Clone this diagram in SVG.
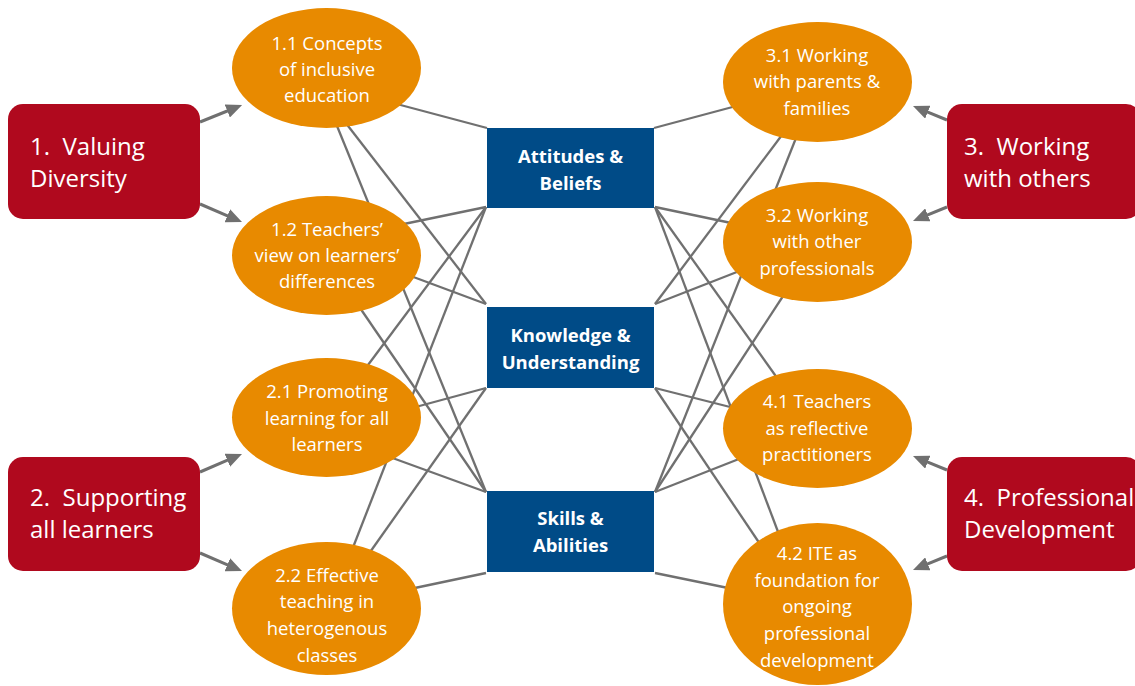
<svg xmlns="http://www.w3.org/2000/svg" width="1135" height="686" viewBox="0 0 1135 686">
<defs>
<marker id="ah" markerUnits="userSpaceOnUse" markerWidth="16" markerHeight="14" refX="4" refY="7" orient="auto">
<path d="M0,0 L16,7 L0,14 z" fill="#707070"/>
</marker>
<style>
.ln{stroke:#707070;stroke-width:2.3;fill:none}
.ar{stroke:#707070;stroke-width:3;fill:none;marker-end:url(#ah)}
.red{fill:#B0091E}
.org{fill:#E88A00}
.blu{fill:#004B87}
.rt{font-family:"Open Sans","Noto Sans",sans-serif;font-size:24px;fill:#fff;white-space:pre}
.et{font-family:"Open Sans","Noto Sans",sans-serif;font-size:18.5px;fill:#fff;text-anchor:middle}
.bt{font-family:"Open Sans","Noto Sans",sans-serif;font-size:18.5px;font-weight:bold;fill:#fff;text-anchor:middle}
</style>
</defs>
<rect width="1135" height="686" fill="#fff"/>
<g id="connectors">
<line class="ln" x1="393" y1="103" x2="487" y2="128"/>
<line class="ln" x1="345" y1="122" x2="486" y2="304"/>
<line class="ln" x1="335" y1="121" x2="486" y2="492"/>
<line class="ln" x1="399" y1="225" x2="486" y2="207"/>
<line class="ln" x1="408" y1="275" x2="486" y2="304"/>
<line class="ln" x1="358" y1="305" x2="486" y2="492"/>
<line class="ln" x1="365" y1="369" x2="486" y2="207"/>
<line class="ln" x1="412" y1="408" x2="486" y2="388"/>
<line class="ln" x1="387" y1="456" x2="486" y2="492"/>
<line class="ln" x1="352" y1="550" x2="486" y2="207"/>
<line class="ln" x1="368" y1="555" x2="486" y2="388"/>
<line class="ln" x1="410" y1="589" x2="486" y2="573"/>
<line class="ln" x1="740" y1="105" x2="654" y2="128"/>
<line class="ln" x1="785" y1="131" x2="655" y2="304"/>
<line class="ln" x1="798" y1="133" x2="655" y2="492"/>
<line class="ln" x1="736" y1="224" x2="655" y2="207"/>
<line class="ln" x1="742" y1="270" x2="655" y2="304"/>
<line class="ln" x1="787" y1="290" x2="655" y2="492"/>
<line class="ln" x1="780" y1="382" x2="655" y2="207"/>
<line class="ln" x1="738" y1="409" x2="655" y2="388"/>
<line class="ln" x1="744" y1="457" x2="655" y2="492"/>
<line class="ln" x1="780" y1="537" x2="655" y2="207"/>
<line class="ln" x1="762" y1="547" x2="655" y2="388"/>
<line class="ln" x1="733" y1="589" x2="655" y2="573"/>
<line class="ar" x1="200" y1="122" x2="231" y2="109.5"/>
<line class="ar" x1="200" y1="204" x2="231" y2="217.3"/>
<line class="ar" x1="200" y1="472" x2="231" y2="458.7"/>
<line class="ar" x1="200" y1="553" x2="231" y2="566.3"/>
<line class="ar" x1="947" y1="120" x2="924.1" y2="110.6"/>
<line class="ar" x1="947" y1="207" x2="924.1" y2="216.4"/>
<line class="ar" x1="947" y1="470" x2="924.1" y2="460.6"/>
<line class="ar" x1="947" y1="556" x2="924.1" y2="565.4"/>
</g>
<g id="n1">
<rect class="red" x="8" y="104" width="192" height="115" rx="15"/>
<text class="rt" x="30" y="155">1.  Valuing</text>
<text class="rt" x="30" y="187">Diversity</text>
</g>
<g id="n2">
<rect class="red" x="8" y="457" width="192" height="114" rx="15"/>
<text class="rt" x="30" y="506">2.  Supporting</text>
<text class="rt" x="30" y="538">all learners</text>
</g>
<g id="n3">
<rect class="red" x="947" y="104" width="194" height="115" rx="15"/>
<text class="rt" x="964" y="155">3.  Working</text>
<text class="rt" x="964" y="187">with others</text>
</g>
<g id="n4">
<rect class="red" x="947" y="457" width="194" height="114" rx="15"/>
<text class="rt" x="964" y="506">4.  Professional</text>
<text class="rt" x="964" y="538">Development</text>
</g>
<g id="n11">
<ellipse class="org" cx="326.5" cy="68" rx="94.5" ry="60"/>
<text class="et" x="327" y="50">1.1 Concepts</text>
<text class="et" x="327" y="76">of inclusive</text>
<text class="et" x="327" y="102">education</text>
</g>
<g id="n12">
<ellipse class="org" cx="326.5" cy="255.5" rx="94.5" ry="59.5"/>
<text class="et" x="327" y="236">1.2 Teachers’</text>
<text class="et" x="327" y="262">view on learners’</text>
<text class="et" x="327" y="288">differences</text>
</g>
<g id="n21">
<ellipse class="org" cx="326.5" cy="417.5" rx="94.5" ry="59.5"/>
<text class="et" x="327" y="398">2.1 Promoting</text>
<text class="et" x="327" y="425">learning for all</text>
<text class="et" x="327" y="451">learners</text>
</g>
<g id="n22">
<ellipse class="org" cx="326.5" cy="608.5" rx="94.5" ry="66.5"/>
<text class="et" x="327" y="582">2.2 Effective</text>
<text class="et" x="327" y="608">teaching in</text>
<text class="et" x="327" y="635">heterogenous</text>
<text class="et" x="327" y="662">classes</text>
</g>
<g id="n31">
<ellipse class="org" cx="817.5" cy="82" rx="94.5" ry="60"/>
<text class="et" x="817" y="62">3.1 Working</text>
<text class="et" x="817" y="88">with parents &amp;</text>
<text class="et" x="817" y="115">families</text>
</g>
<g id="n32">
<ellipse class="org" cx="817.5" cy="242" rx="94.5" ry="60"/>
<text class="et" x="817" y="222">3.2 Working</text>
<text class="et" x="817" y="248">with other</text>
<text class="et" x="817" y="275">professionals</text>
</g>
<g id="n41">
<ellipse class="org" cx="817.5" cy="428.5" rx="94.5" ry="59.5"/>
<text class="et" x="817" y="408">4.1 Teachers</text>
<text class="et" x="817" y="435">as reflective</text>
<text class="et" x="817" y="461">practitioners</text>
</g>
<g id="n42">
<ellipse class="org" cx="817.5" cy="604" rx="94.5" ry="81"/>
<text class="et" x="817" y="560">4.2 ITE as</text>
<text class="et" x="817" y="587">foundation for</text>
<text class="et" x="817" y="613">ongoing</text>
<text class="et" x="817" y="640">professional</text>
<text class="et" x="817" y="667">development</text>
</g>
<g id="nAB">
<rect class="blu" x="487" y="128" width="167" height="80"/>
<text class="bt" x="570.5" y="163">Attitudes &amp;</text>
<text class="bt" x="570.5" y="190">Beliefs</text>
</g>
<g id="nKU">
<rect class="blu" x="487" y="307" width="167" height="81"/>
<text class="bt" x="570.5" y="342">Knowledge &amp;</text>
<text class="bt" x="570.5" y="369">Understanding</text>
</g>
<g id="nSA">
<rect class="blu" x="487" y="491" width="167" height="81"/>
<text class="bt" x="570.5" y="525">Skills &amp;</text>
<text class="bt" x="570.5" y="552">Abilities</text>
</g>
</svg>
